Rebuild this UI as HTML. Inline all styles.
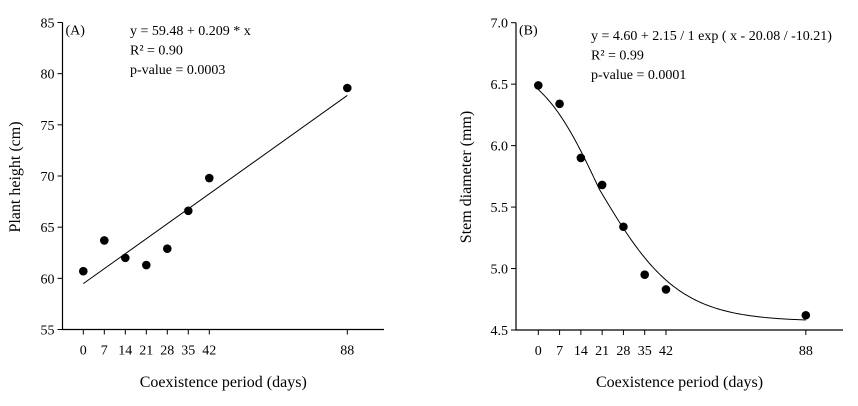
<!DOCTYPE html>
<html><head><meta charset="utf-8"><style>
body{margin:0;background:#fff;}
svg{display:block;font-family:"Liberation Serif",serif;}
</style></head><body>
<svg id="c" width="858" height="406"></svg>
<script>
const days=[0,7,14,21,28,35,42,88];
const heightVals=[60.7,63.7,62.0,61.3,62.9,66.6,69.8,78.6];
const diamVals=[6.49,6.34,5.90,5.68,5.34,4.95,4.83,4.62];
const yTicksA=[55,60,65,70,75,80,85];
const yTicksB=[4.5,5.0,5.5,6.0,6.5,7.0];
const NS="http://www.w3.org/2000/svg";
const svg=document.getElementById('c');
function el(t,a,p){const e=document.createElementNS(NS,t);for(const k in a)e.setAttribute(k,a[k]);(p||svg).appendChild(e);return e;}
function txt(s,a,p){const e=el('text',a,p);e.textContent=s;return e;}
function panel(o){
 const g=el('g',{});
 
 
 const X=d=>o.x0+d*o.kx, Y=v=>o.yb-(v-o.ymin)/(o.ymax-o.ymin)*(o.yb-o.yt);
 const ax=el('path',{d:`M${o.ax},${o.yt}V${o.yb}H${o.axEnd}`,stroke:'#000',fill:'none','stroke-width':1.2},g);
 
 o.yticks.forEach(v=>{el('line',{x1:o.ax-5,x2:o.ax,y1:Y(v),y2:Y(v),stroke:'#000'},g);
  const t=txt(o.fmt(v),{x:o.ax-8,y:Y(v)+5,'text-anchor':'end','font-size':14},g);
  });
 days.forEach(d=>{el('line',{x1:X(d),x2:X(d),y1:o.yb,y2:o.yb+5,stroke:'#000'},g);
  const t=txt(String(d),{x:X(d),y:o.yb+25,'text-anchor':'middle','font-size':14},g);
  });
 const xt=txt('Coexistence period (days)',{x:(o.ax+o.axEnd)/2,y:387,'text-anchor':'middle','font-size':16},g);
 
 const yt=txt(o.ytitle,{x:0,y:0,'text-anchor':'middle','font-size':16,transform:`translate(${o.ytx},177) rotate(-90)`},g);
 
 let d='';for(let i=0;i<=176;i++){const x=i/2;d+=(i?'L':'M')+X(x).toFixed(2)+','+Y(o.fit(x)).toFixed(2);}
 if(o.linear)d=`M${X(0)},${Y(o.fit(0))}L${X(88)},${Y(o.fit(88))}`;
 const fl=el('path',{d:d,stroke:'#000',fill:'none','stroke-width':1},g);
 
 o.vals.forEach((v,i)=>{const c=el('circle',{cx:X(days[i]),cy:Y(v),r:4.3,fill:'#000'},g);
  });
 const lb=txt(o.label,{x:o.ax+3,y:o.yt+12,'font-size':14},g);
 
 o.ann.forEach((s,i)=>{const t=txt(s,{x:o.annx,y:o.anny+i*19.5,'font-size':14},g);
  });
}
panel({name:'panel-a',x0:83.3,kx:3,ax:62.5,axEnd:384,yt:22.5,yb:329.5,ymin:55,ymax:85,yticks:yTicksA,fmt:v=>String(v),
 vals:heightVals,fit:x=>59.48+0.209*x,linear:true,ytitle:'Plant height (cm)',ytx:20,label:'(A)',
 ann:['y = 59.48 + 0.209 * x','R² = 0.90','p-value = 0.0003'],annx:130,anny:35});
panel({name:'panel-b',x0:538.3,kx:3.04,ax:516,axEnd:843,yt:22.7,yb:330,ymin:4.5,ymax:7.0,yticks:yTicksB,fmt:v=>v.toFixed(1),
 vals:diamVals,fit:x=>4.57+2.15/(1+Math.exp((x-20.08)/(x<20.08?10.21:13))),ytitle:'Stem diameter (mm)',ytx:471,label:'(B)',
 ann:['y = 4.60 + 2.15 / 1 exp ( x - 20.08 / -10.21)','R² = 0.99','p-value = 0.0001'],annx:591,anny:40});
</script>
</body></html>
